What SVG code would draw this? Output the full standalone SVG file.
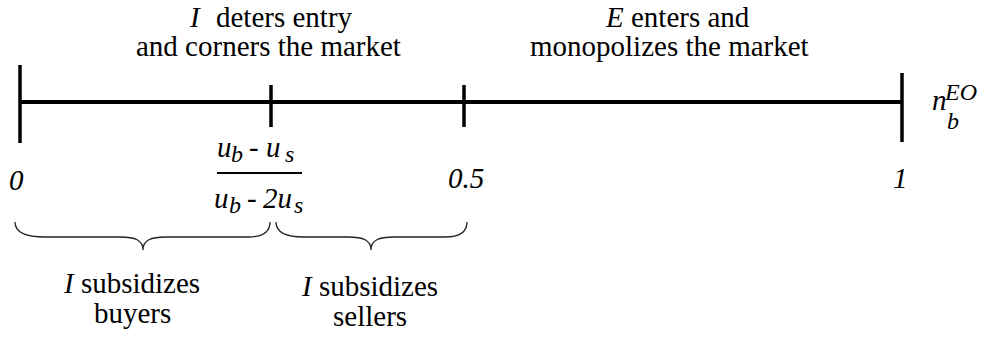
<svg xmlns="http://www.w3.org/2000/svg" width="986" height="338" viewBox="0 0 986 338">
<rect width="986" height="338" fill="#fff"/>
<g id="connectors" fill="none">
<line stroke="#000" stroke-width="4" x1="20" y1="102" x2="902" y2="102"/>
<line stroke="#000" stroke-width="2" x1="217" y1="173" x2="302" y2="173"/>
<g stroke="#222" stroke-width="1.3">
<path d="M15,222 C15,232 25,237 45,237 L120,237 C135,237 143,240 143,250 C143,240 151,237 166,237 L248,237 C262,237 270,232 270,222"/>
<path d="M276,222 C276,232 286,237 304,237 L348,237 C363,237 371,240 371,250 C371,240 379,237 394,237 L445,237 C459,237 467,232 467,222"/>
</g>
</g>
<g id="tick0"><line stroke="#000" stroke-width="3.5" x1="20" y1="65" x2="20" y2="143"/><text style="font-family:'Liberation Serif',serif;font-size:29px;font-style:italic" x="9" y="190">0</text></g>
<g id="tickMid"><line stroke="#000" stroke-width="3.5" x1="271" y1="85" x2="271" y2="127"/>
<text style="font-family:'Liberation Serif',serif;font-size:29px;font-style:italic"><tspan x="217" y="157">u</tspan><tspan x="231" y="162" font-size="24">b</tspan><tspan x="249" y="157" font-style="normal">-</tspan><tspan x="266" y="157">u</tspan><tspan x="285" y="162" font-size="24">s</tspan></text>
<text style="font-family:'Liberation Serif',serif;font-size:29px;font-style:italic"><tspan x="214" y="208">u</tspan><tspan x="229" y="213" font-size="24">b</tspan><tspan x="247" y="208" font-style="normal">-</tspan><tspan x="263" y="208">2u</tspan><tspan x="294" y="213" font-size="24">s</tspan></text>
</g>
<g id="tickHalf"><line stroke="#000" stroke-width="3.5" x1="464" y1="85" x2="464" y2="127"/><text style="font-family:'Liberation Serif',serif;font-size:29px;font-style:italic" x="448" y="188">0.5</text></g>
<g id="tick1"><line stroke="#000" stroke-width="3.5" x1="902" y1="73" x2="902" y2="142"/><text style="font-family:'Liberation Serif',serif;font-size:29px;font-style:italic" x="893" y="188">1</text></g>
<g id="axisLabel"><text style="font-family:'Liberation Serif',serif;font-size:29px;font-style:italic"><tspan x="932" y="110">n</tspan><tspan x="945" y="100" font-size="24">EO</tspan><tspan x="947" y="129" font-size="24">b</tspan></text></g>
<g id="regionI"><text style="font-family:'Liberation Serif',serif;font-size:29px" x="190" y="27"><tspan font-style="italic">I</tspan><tspan x="216" y="27">deters entry</tspan></text><text style="font-family:'Liberation Serif',serif;font-size:29px" x="136" y="56">and corners the market</text></g>
<g id="regionE"><text style="font-family:'Liberation Serif',serif;font-size:29px" x="606" y="27"><tspan font-style="italic">E</tspan> enters and</text><text style="font-family:'Liberation Serif',serif;font-size:29px" x="530" y="56">monopolizes the market</text></g>
<g id="buyers"><text style="font-family:'Liberation Serif',serif;font-size:29px" x="64" y="293"><tspan font-style="italic">I</tspan> subsidizes</text><text style="font-family:'Liberation Serif',serif;font-size:29px" x="94" y="323">buyers</text></g>
<g id="sellers"><text style="font-family:'Liberation Serif',serif;font-size:29px" x="302" y="296"><tspan font-style="italic">I</tspan> subsidizes</text><text style="font-family:'Liberation Serif',serif;font-size:29px" x="333" y="326">sellers</text></g>
</svg>
